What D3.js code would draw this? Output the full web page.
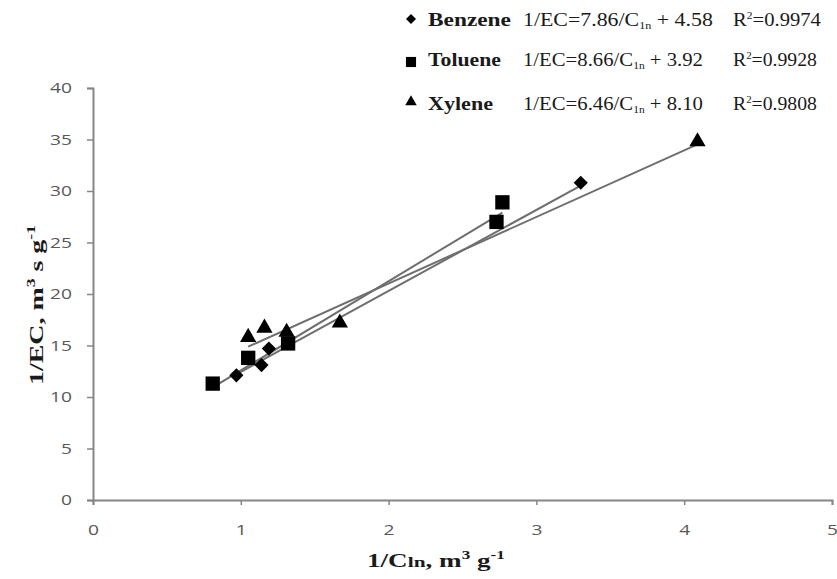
<!DOCTYPE html>
<html>
<head>
<meta charset="utf-8">
<script src="https://cdn.jsdelivr.net/npm/d3@7"></script>
<style>
  body { margin: 0; background: #fff; }
  svg { display: block; }
</style>
</head>
<body>
<svg width="837" height="579"></svg>
<script>
(function () {

// data
var benzeneX = [0.97, 1.14, 1.19, 3.30];
var benzeneY = [12.1, 13.1, 14.7, 30.8];
var tolueneX = [0.81, 1.05, 1.32, 2.73, 2.77];
var tolueneY = [11.3, 13.8, 15.2, 27.0, 28.9];
var xyleneX = [1.05, 1.16, 1.31, 1.67, 4.09];
var xyleneY = [15.8, 16.7, 16.3, 17.2, 34.8];

var names = ["Benzene", "Toluene", "Xylene"];
var slopes = [7.86, 8.66, 6.46];
var intercepts = [4.58, 3.92, 8.10];
var r2 = ["0.9974", "0.9928", "0.9808"];

var xTicks = [0, 1, 2, 3, 4, 5];
var yTicks = [0, 5, 10, 15, 20, 25, 30, 35, 40];

var svg = d3.select('svg');

var x = d3.scaleLinear().domain([0, 5]).range([93, 832]);
var y = d3.scaleLinear().domain([0, 40]).range([500, 88]);

var axisColor = "#868686";
var tickColor = "#595959";
var serif = "'Liberation Serif', 'Times New Roman', serif";
var sans = "'Open Sans', 'DejaVu Sans', sans-serif";

// the picture is stretched sideways, so text gets squeezed/stretched to a width
var stretch = function (g, width) {
  var t = g.select("text");
  var w = t.node().getComputedTextLength();
  var tr = g.attr("transform");
  g.attr("transform", tr + " scale(" + (width / w) + ",1)");
};

// axes
var gx = svg.append("g")
  .attr("transform", "translate(0," + y(0) + ")")
  .call(d3.axisBottom(x).tickValues(xTicks).tickSize(5).tickFormat(d3.format("d")));
var gy = svg.append("g")
  .attr("transform", "translate(" + x(0) + ",0)")
  .call(d3.axisLeft(y).tickValues(yTicks).tickSize(6).tickFormat(d3.format("d")));

[gx, gy].forEach(function (g) {
  g.select(".domain").attr("stroke", axisColor).attr("stroke-width", 2);
  g.selectAll(".tick line").attr("stroke", axisColor).attr("stroke-width", 1.5);
  g.selectAll(".tick text")
    .attr("fill", tickColor)
    .style("font-family", sans)
    .style("font-size", "15px")
    .attr("lengthAdjust", "spacingAndGlyphs")
    .attr("textLength", function (d) { return String(d).length * 11; });
});
gx.selectAll(".tick text").attr("y", 30).attr("dy", "0.32em");
gy.selectAll(".tick text").attr("x", -21);

// trend lines
var series = [
  {xs: benzeneX, ys: benzeneY, sym: "diamond"},
  {xs: tolueneX, ys: tolueneY, sym: "square"},
  {xs: xyleneX, ys: xyleneY, sym: "triangle"}
];

series.forEach(function (s, i) {
  var x0 = d3.min(s.xs), x1 = d3.max(s.xs);
  svg.append("line")
    .attr("x1", x(x0)).attr("y1", y(slopes[i] * x0 + intercepts[i]))
    .attr("x2", x(x1)).attr("y2", y(slopes[i] * x1 + intercepts[i]))
    .style("stroke", "#6e6e6e").style("stroke-width", 2);
});

var symbolPath = function (sym, k) {
  if (sym === "square") return d3.symbol().type(d3.symbolSquare).size(205 * k)();
  if (sym === "triangle") return d3.symbol().type(d3.symbolTriangle).size(115 * k)();
  return d3.symbol().type(d3.symbolSquare).size(100 * k)();
};

// points
series.forEach(function (s) {
  svg.append("g").selectAll("path")
    .data(s.xs.map(function (v, j) { return [v, s.ys[j]]; }))
    .join("path")
    .attr("d", symbolPath(s.sym, 1))
    .attr("transform", function (d) {
      return "translate(" + x(d[0]) + "," + y(d[1]) + ")" + (s.sym === "diamond" ? " rotate(45)" : "");
    })
    .style("fill", "#000");
});

// legend
var legendY = [26, 66, 110];
var markY = [19, 62, 102];
var nameW = [83, 73, 65];
var eqW = [190, 180, 180];
var rW = [88, 84, 84];
series.forEach(function (s, i) {
  var ly = legendY[i];
  svg.append("path")
    .attr("d", symbolPath(s.sym, 0.5))
    .attr("transform", "translate(411," + markY[i] + ")" + (s.sym === "diamond" ? " rotate(45)" : ""))
    .style("fill", "#000");

  var gn = svg.append("g").attr("transform", "translate(428," + ly + ")");
  gn.append("text")
    .style("font-family", serif).style("font-size", "19px").style("font-weight", "bold")
    .attr("fill", "#1a1a1a")
    .text(names[i]);
  stretch(gn, nameW[i]);

  var ge = svg.append("g").attr("transform", "translate(523," + ly + ")");
  var eq = ge.append("text")
    .style("font-family", serif).style("font-size", "18px")
    .attr("fill", "#1a1a1a");
  eq.append("tspan").text("1/EC=" + slopes[i].toFixed(2) + "/C");
  eq.append("tspan").attr("font-size", "10px").attr("dy", 3).text("1n");
  eq.append("tspan").attr("dy", -3).text(" + " + intercepts[i].toFixed(2));
  stretch(ge, eqW[i]);

  var gr = svg.append("g").attr("transform", "translate(733," + ly + ")");
  var rt = gr.append("text")
    .style("font-family", serif).style("font-size", "18px")
    .attr("fill", "#1a1a1a");
  rt.append("tspan").text("R");
  rt.append("tspan").attr("font-size", "10px").attr("dy", -7).text("2");
  rt.append("tspan").attr("dy", 7).text("=" + r2[i]);
  stretch(gr, rW[i]);
});

// axis titles
var gxt = svg.append("g").attr("transform", "translate(367,567)");
var xt = gxt.append("text")
  .style("font-family", serif).style("font-size", "19px").style("font-weight", "bold")
  .attr("fill", "#1a1a1a");
xt.append("tspan").text("1/C");
xt.append("tspan").attr("font-size", "15px").text("ln");
xt.append("tspan").text(", m");
xt.append("tspan").attr("font-size", "12px").attr("dy", -8).text("3");
xt.append("tspan").attr("dy", 8).text(" g");
xt.append("tspan").attr("font-size", "12px").attr("dy", -8).text("-1");
stretch(gxt, 138);

var gyt = svg.append("g").attr("transform", "translate(43,385) rotate(-90)");
var yt = gyt.append("text")
  .style("font-family", serif).style("font-size", "19px").style("font-weight", "bold")
  .attr("fill", "#1a1a1a");
yt.append("tspan").text("1/EC, m");
yt.append("tspan").attr("font-size", "12px").attr("dy", -8).text("3");
yt.append("tspan").attr("dy", 8).text(" s g");
yt.append("tspan").attr("font-size", "12px").attr("dy", -8).text("-1");
stretch(gyt, 160);

})();
</script>
</body>
</html>
